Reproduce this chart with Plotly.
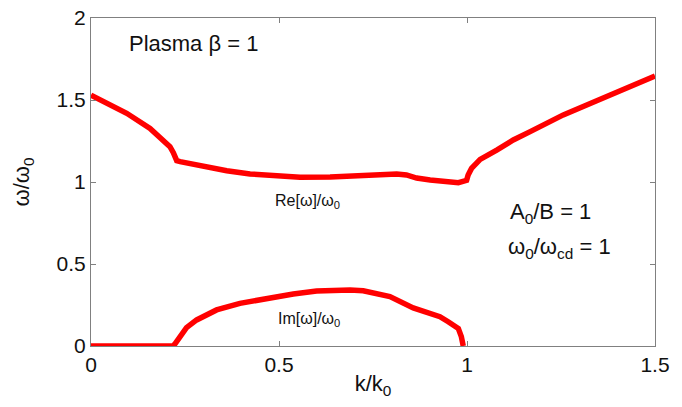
import plotly.graph_objects as go

# Re[omega]/omega0 branch
k_re = [0.0, 0.05, 0.095, 0.157, 0.192, 0.21, 0.219, 0.228, 0.237, 0.29, 0.361, 0.423,
        0.485, 0.556, 0.636, 0.724, 0.813, 0.839, 0.866, 0.902, 0.937, 0.977, 0.999,
        1.003, 1.012, 1.035, 1.079, 1.123, 1.168, 1.256, 1.345, 1.434, 1.5]
w_re = [1.53, 1.47, 1.419, 1.327, 1.26, 1.215, 1.179, 1.13, 1.124, 1.098, 1.069, 1.049,
        1.037, 1.029, 1.03, 1.038, 1.049, 1.043, 1.024, 1.012, 1.002, 0.996, 1.01,
        1.043, 1.083, 1.138, 1.195, 1.256, 1.307, 1.409, 1.495, 1.582, 1.646]

# Im[omega]/omega0 branch
k_im = [0.0, 0.219, 0.223, 0.232, 0.241, 0.254, 0.281, 0.334, 0.396, 0.467, 0.538, 0.6,
        0.65, 0.689, 0.724, 0.795, 0.857, 0.928, 0.95, 0.977, 0.985, 0.99]
w_im = [0.0, 0.0, 0.012, 0.041, 0.077, 0.112, 0.159, 0.22, 0.26, 0.291, 0.317, 0.335,
        0.341, 0.341, 0.337, 0.301, 0.232, 0.179, 0.148, 0.107, 0.057, 0.0]

x_ticks = [0, 0.5, 1, 1.5]
x_ticklabels = ["0", "0.5", "1", "1.5"]
y_ticks = [0, 0.5, 1, 1.5, 2]
y_ticklabels = ["0", "0.5", "1", "1.5", "2"]

FONT = "Liberation Sans, Arial, sans-serif"
INK = "#111111"

fig = go.Figure()
for kk, ww in [(k_re, w_re), (k_im, w_im)]:
    fig.add_trace(go.Scatter(x=kk, y=ww, mode="lines",
                             line=dict(color="#ff0000", width=5.5),
                             showlegend=False, hoverinfo="skip"))

axis_common = dict(showline=True, linecolor="#808080", linewidth=1, mirror="ticks",
                   ticks="inside", ticklen=5, tickcolor="#808080", showgrid=False,
                   zeroline=False, automargin=False, ticklabeloverflow="allow",
                   tickfont=dict(family=FONT, size=21, color=INK))

fig.update_xaxes(range=[0, 1.5], tickvals=x_ticks, ticktext=x_ticklabels,
                 title=dict(text="k/k<sub>0</sub>", font=dict(family=FONT, size=22, color=INK),
                            standoff=0),
                 **axis_common)
fig.update_yaxes(range=[0, 2], tickvals=y_ticks, ticktext=y_ticklabels,
                 title=dict(text="ω/ω<sub>0</sub>", font=dict(family=FONT, size=22, color=INK),
                            standoff=20),
                 **axis_common)

ann_font = dict(family=FONT, size=22, color=INK)
small_font = dict(family=FONT, size=16, color=INK)
fig.add_annotation(x=0.273, y=1.847, text="Plasma β = 1", showarrow=False, font=ann_font)
fig.add_annotation(x=0.575, y=0.88, text="Re[ω]/ω<sub>0</sub>", showarrow=False, font=small_font)
fig.add_annotation(x=0.58, y=0.16, text="Im[ω]/ω<sub>0</sub>", showarrow=False, font=small_font)
fig.add_annotation(x=1.11, y=0.81, text="A<sub>0</sub>/B = 1", showarrow=False,
                   font=ann_font, xanchor="left")
fig.add_annotation(x=1.105, y=0.596, text="ω<sub>0</sub>/ω<sub>cd</sub> = 1", showarrow=False,
                   font=ann_font, xanchor="left")

# page body adds an 8 px offset; size the figure so the plot area lands where the reference has it
fig.update_layout(width=674, height=399, margin=dict(l=83, r=27, t=10, b=61),
                  paper_bgcolor="white", plot_bgcolor="white")

fig.write_html("out.html")
